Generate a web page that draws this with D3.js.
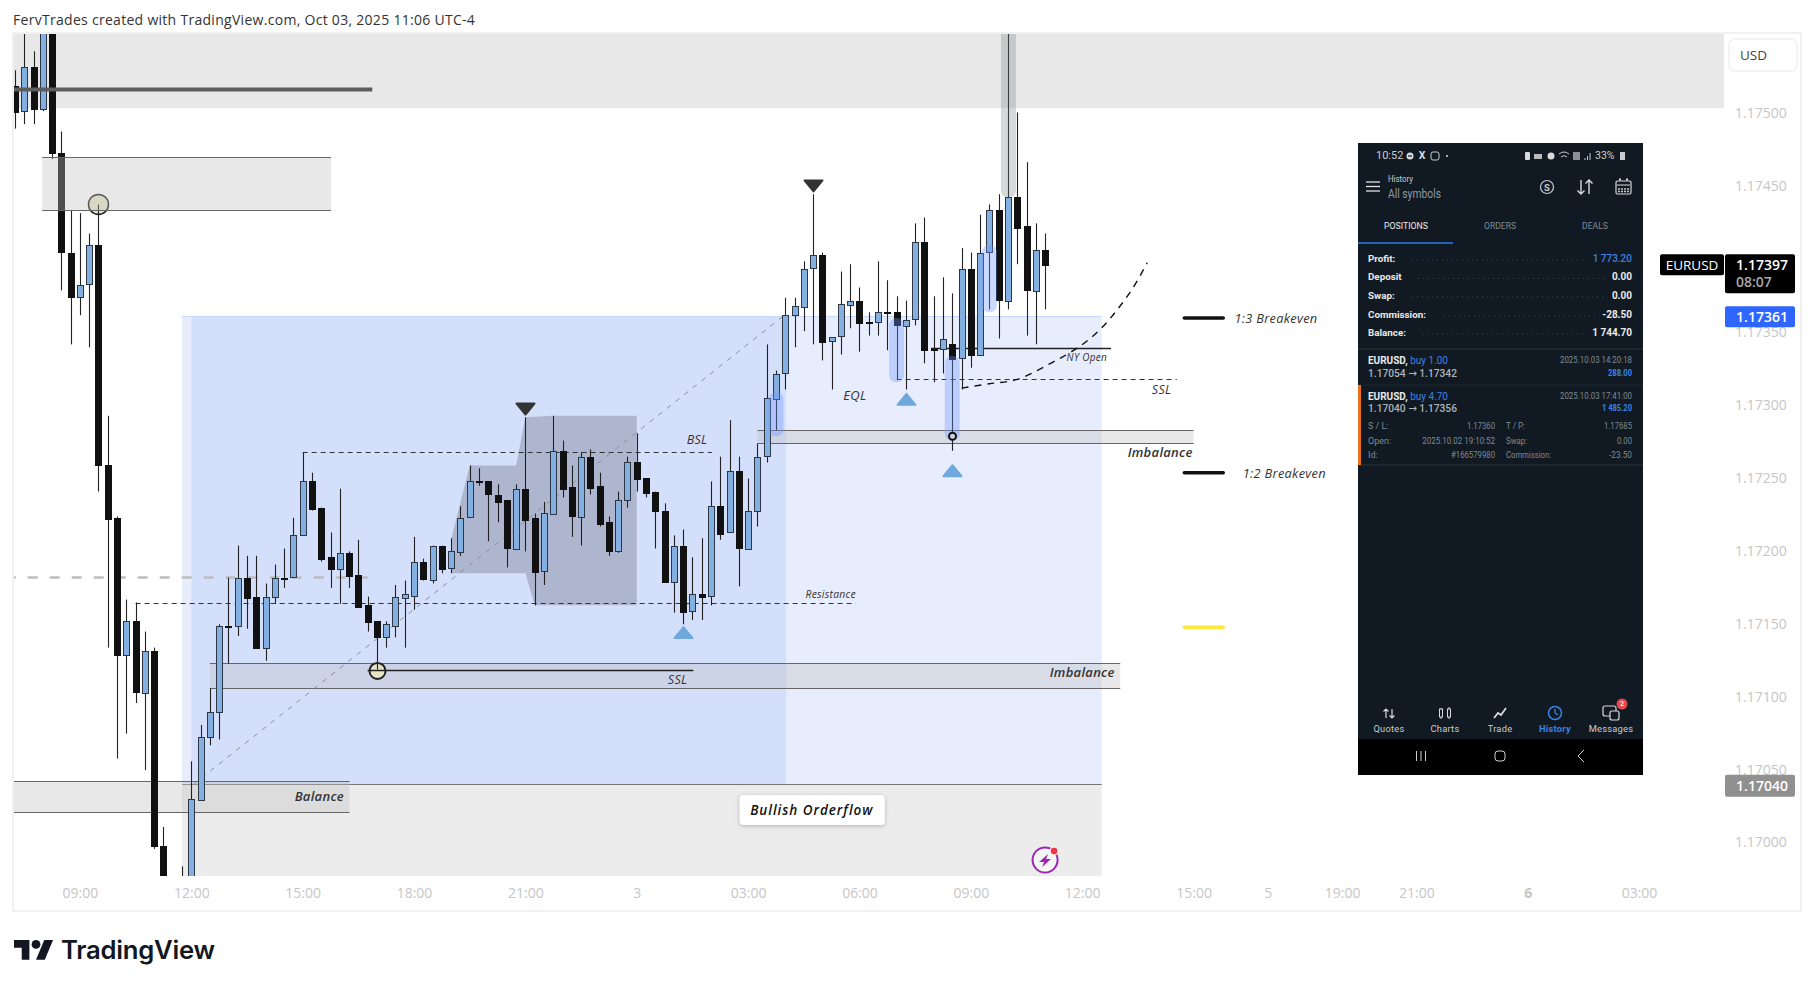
<!DOCTYPE html>
<html lang="en">
<head>
  <meta charset="UTF-8">
  <title>EURUSD 15m - Bullish Orderflow</title>
  <script src="https://d3js.org/d3.v7.min.js"></script>
  <style>
    html, body { margin: 0; background: #fff; }
    text { font-family: "Open Sans", sans-serif; }
  </style>
</head>
<body>
  <script>
    // 15 minute bars, first bar is index -19, 12:00 is index 0
    const firstBar = -19;
    const opens = [1.17519,1.17502,1.17532,1.17503,1.17565,1.17473,1.17405,1.17375,1.17383,1.17410,1.17259,1.17223,1.17129,1.17152,1.17103,1.17132,1.16998,1.16964,1.16964,1.16968,
      1.17030,1.17073,1.17090,1.17149,1.17149,1.17182,1.17169,1.17134,1.17169,1.17182,1.17182,1.17211,1.17248,1.17230,1.17196,1.17188,1.17199,1.17184,1.17163,1.17152,
      1.17141,1.17149,1.17168,1.17170,1.17193,1.17181,1.17204,1.17188,1.17200,1.17223,1.17248,1.17248,1.17239,1.17235,1.17202,1.17243,1.17223,1.17186,1.17226,1.17269,
      1.17244,1.17224,1.17265,1.17245,1.17220,1.17200,1.17235,1.17261,1.17250,1.17241,1.17228,1.17179,1.17204,1.17159,1.17171,1.17169,1.17231,1.17213,1.17255,1.17202,
      1.17228,1.17265,1.17305,1.17322,1.17362,1.17368,1.17394,1.17403,1.17344,1.17348,1.17369,1.17372,1.17357,1.17357,1.17364,1.17364,1.17355,1.17359,1.17412,1.17339,
      1.17339,1.17342,1.17333,1.17394,1.17335,1.17405,1.17434,1.17372,1.17443,1.17423,1.17379,1.17407];
    const highs = [1.17530,1.17560,1.17543,1.17570,1.17570,1.17488,1.17434,1.17432,1.17418,1.17438,1.17293,1.17224,1.17167,1.17165,1.17145,1.17134,1.17011,1.16968,1.16984,1.17056,
      1.17081,1.17106,1.17150,1.17182,1.17204,1.17197,1.17197,1.17178,1.17191,1.17202,1.17223,1.17268,1.17254,1.17230,1.17213,1.17243,1.17200,1.17208,1.17169,1.17152,
      1.17152,1.17177,1.17180,1.17210,1.17195,1.17204,1.17204,1.17209,1.17231,1.17259,1.17257,1.17248,1.17246,1.17235,1.17246,1.17292,1.17226,1.17234,1.17293,1.17276,
      1.17259,1.17268,1.17270,1.17254,1.17224,1.17241,1.17265,1.17281,1.17250,1.17241,1.17233,1.17211,1.17215,1.17196,1.17209,1.17248,1.17265,1.17290,1.17265,1.17250,
      1.17274,1.17342,1.17324,1.17374,1.17374,1.17399,1.17445,1.17405,1.17347,1.17392,1.17397,1.17381,1.17364,1.17399,1.17386,1.17375,1.17372,1.17425,1.17429,1.17375,
      1.17388,1.17377,1.17408,1.17405,1.17431,1.17438,1.17445,1.17564,1.17501,1.17467,1.17425,1.17418];
    const lows = [1.17490,1.17493,1.17493,1.17502,1.17469,1.17379,1.17342,1.17362,1.17340,1.17241,1.17134,1.17058,1.17075,1.17096,1.17050,1.16996,1.16957,1.16954,1.16958,1.16961,
      1.17030,1.17067,1.17071,1.17123,1.17142,1.17147,1.17134,1.17125,1.17164,1.17175,1.17182,1.17211,1.17228,1.17193,1.17175,1.17164,1.17175,1.17162,1.17145,1.17119,
      1.17134,1.17141,1.17134,1.17160,1.17180,1.17178,1.17185,1.17185,1.17197,1.17223,1.17245,1.17207,1.17220,1.17189,1.17202,1.17200,1.17163,1.17177,1.17226,1.17237,
      1.17210,1.17204,1.17239,1.17217,1.17197,1.17199,1.17230,1.17241,1.17237,1.17202,1.17179,1.17158,1.17150,1.17153,1.17153,1.17163,1.17208,1.17213,1.17176,1.17202,
      1.17217,1.17261,1.17283,1.17311,1.17340,1.17351,1.17342,1.17331,1.17311,1.17335,1.17353,1.17337,1.17348,1.17348,1.17338,1.17318,1.17311,1.17355,1.17329,1.17316,
      1.17322,1.17269,1.17311,1.17326,1.17335,1.17366,1.17346,1.17366,1.17397,1.17348,1.17342,1.17366];
    const closes = [1.17501,1.17532,1.17503,1.17565,1.17473,1.17405,1.17375,1.17383,1.17410,1.17259,1.17222,1.17129,1.17152,1.17103,1.17132,1.16998,1.16961,1.16958,1.16968,1.17030,
      1.17073,1.17090,1.17149,1.17149,1.17182,1.17168,1.17134,1.17169,1.17182,1.17182,1.17211,1.17248,1.17229,1.17195,1.17188,1.17199,1.17183,1.17162,1.17151,1.17141,
      1.17150,1.17169,1.17171,1.17193,1.17181,1.17204,1.17188,1.17200,1.17223,1.17248,1.17248,1.17239,1.17234,1.17202,1.17243,1.17222,1.17186,1.17226,1.17269,1.17243,
      1.17224,1.17265,1.17244,1.17219,1.17200,1.17235,1.17261,1.17249,1.17240,1.17228,1.17179,1.17204,1.17159,1.17171,1.17169,1.17231,1.17212,1.17255,1.17202,1.17228,
      1.17265,1.17305,1.17322,1.17362,1.17368,1.17394,1.17403,1.17343,1.17347,1.17370,1.17372,1.17357,1.17357,1.17364,1.17363,1.17355,1.17359,1.17412,1.17338,1.17339,
      1.17346,1.17332,1.17394,1.17335,1.17405,1.17434,1.17372,1.17443,1.17422,1.17379,1.17407,1.17397];

    const priceTicks = [1.175, 1.1745, 1.1735, 1.173, 1.1725, 1.172, 1.1715, 1.171, 1.1705, 1.17];
    const timeTicks = [-12, 0, 12, 24, 36, 48, 60, 72, 84, 96, 108, 116, 124, 132, 144, 156];
    const timeLabels = ["09:00", "12:00", "15:00", "18:00", "21:00", "3", "03:00", "06:00", "09:00", "12:00", "15:00", "5", "19:00", "21:00", "6", "03:00"];

    // annotations, all in bar index / price
    const entryPrice = 1.1704, targetPrice = 1.17361, lastPrice = 1.17397;
    const fibShape = [[28,1.17185],[28,1.17208],[30,1.17259],[35,1.17259],[36,1.17292],[39,1.17293],[48,1.17293],[48,1.17163],[37,1.17163],[36,1.17185]];
    const smileCurve = [[83,1.17312],[86,1.17315],[89,1.17318],[92.6,1.17329],[95.6,1.1734],[97.9,1.17352],[99.8,1.17366],[101.5,1.17381],[103,1.17398]];
    const overlayBoxes = [[-16.06,15.05,1.1747,1.17434]];
    const imbalances = [[2,100.1,1.17123,1.17106],[61,108,1.17283,1.17274]];
    const balanceBox = [-20,17.05,1.17042,1.17021];
    const dashedLines = [[-6,71.6,1.17164],[12,56.1,1.17268],[76,106.2,1.17318]];
    const solidLines = [[19,54.1,1.17118],[79.7,99.1,1.17339]];
    const legendLines = [[1.1736,"#111"],[1.17254,"#111"],[1.17148,"#fde83a"]];
    const blueHighlights = [[63,1.17309,1.17279],[76,1.1736,1.17316],[82,1.17334,1.17276],[86,1.1741,1.17364]];
    const downMarks = [[67,1.17451],[36,1.17298]];
    const upMarks = [[53,1.17144],[77,1.17304],[82,1.17255]];
    const rings = [[-10,1.17438,10,1.5],[20,1.17118,8,2]];
    const chartLabels = [
      ["Balance",16.45,1.17032,"end",13,600],["Imbalance",99.5,1.17117,"end",13,600],["SSL",52.4,1.17112,"middle",12.5,400],
      ["Imbalance",107.9,1.17268,"end",13,600],["BSL",54.5,1.17277,"middle",12.5,400],["Resistance",68.9,1.17171,"middle",10.3,400],
      ["EQL",71.5,1.17307,"middle",13,400],["SSL",105.6,1.17311,"end",12.5,400],["NY Open",96.5,1.17333,"middle",10,400],
      ["1:3 Breakeven",112.4,1.1736,"start",12.8,400],["1:2 Breakeven",113.3,1.17254,"start",12.8,400]
    ];

    const width = 1814, height = 987;
    const svg = d3.select("body").append("svg").attr("width", width).attr("height", height).style("display", "block");

    const x = d3.scaleLinear().domain([0, 96]).range([191.3, 1082.2]);
    const y = d3.scaleLinear().domain([1.17, 1.175]).range([843, 114]);
    const snap = v => Math.round(v) + 0.5;
    const plotRight = 1724, plotBottom = 876;
    const lastIndex = (plotRight - x(0)) / (x(1) - x(0));

    svg.append("clipPath").attr("id", "plot").append("rect")
      .attr("x", 14).attr("y", 34).attr("width", plotRight - 14).attr("height", plotBottom - 34);

    svg.append("text").attr("x", 13).attr("y", 24.5).attr("font-size", 14).attr("letter-spacing", .29).attr("fill", "#333")
      .text("FervTrades created with TradingView.com, Oct 03, 2025 11:06 UTC-4");

    const g = svg.append("g").attr("clip-path", "url(#plot)");

    const box = (parent, x0, x1, p0, p1, fill) => parent.append("rect")
      .attr("x", x(x0)).attr("width", x(x1) - x(x0))
      .attr("y", y(p0)).attr("height", y(p1) - y(p0)).attr("fill", fill);
    const hline = (parent, x0, x1, p, stroke, sw, dash) => parent.append("line")
      .attr("x1", x(x0)).attr("x2", x(x1)).attr("y1", Math.floor(y(p)) + 0.5).attr("y2", Math.floor(y(p)) + 0.5)
      .attr("stroke", stroke).attr("stroke-width", sw).attr("stroke-dasharray", dash || null);

    // resistance zone at the top
    box(g, -20, lastIndex, 1.1757, 1.17504, "#e8e8e8");

    // long position tool
    box(g, -1, 98.1, targetPrice, entryPrice, "#e7edfd");
    box(g, 0, 64.1, targetPrice, entryPrice, "#d4dffc");
    box(g, -1, 98.1, entryPrice, 1.1695, "#ececec");
    hline(g, -1, 98.1, entryPrice, "#777", 1);
    hline(g, -1, 98.1, targetPrice, "#c8d8fb", 1);

    // balance
    box(g, balanceBox[0], balanceBox[1], balanceBox[2], balanceBox[3], "rgba(190,190,190,.36)");
    hline(g, balanceBox[0], balanceBox[1], balanceBox[2], "#666", 1);
    hline(g, balanceBox[0], balanceBox[1], balanceBox[3], "#666", 1);

    g.append("path").datum(fibShape)
      .attr("d", d3.line().x(d => x(d[0])).y(d => y(d[1])).curve(d3.curveLinearClosed))
      .attr("fill", "#aeb6cf");

    imbalances.forEach(d => {
      box(g, d[0], d[1], d[2], d[3], "rgba(190,190,190,.36)");
      hline(g, d[0], d[1], d[2], "#666", 1);
      hline(g, d[0], d[1], d[3], "#666", 1);
    });

    hline(g, -20, 19.5, 1.17182, "#bdbdbd", 2.5, "10 12");
    dashedLines.forEach(d => hline(g, d[0], d[1], d[2], "#333", 1, "5 4"));

    // entry to target trend line
    g.append("line").attr("x1", x(0.2)).attr("y1", y(entryPrice)).attr("x2", x(63.7)).attr("y2", y(targetPrice))
      .attr("stroke", "#8d8f96").attr("stroke-width", 1).attr("stroke-dasharray", "5 6");

    g.selectAll(".ring").data(rings).enter().append("circle")
      .attr("cx", d => snap(x(d[0]))).attr("cy", d => y(d[1])).attr("r", d => d[2])
      .attr("fill", "#e6e4c6").attr("stroke", "#222").attr("stroke-width", d => d[3]);

    solidLines.forEach(d => hline(g, d[0], d[1], d[2], "#222", 1.3));

    // candles
    const bars = opens.map((o, i) => ({ i: firstBar + i, o, h: highs[i], l: lows[i], c: closes[i] }));
    const candle = g.selectAll(".candle").data(bars).enter().append("g").attr("class", "candle");
    candle.append("line")
      .attr("x1", d => snap(x(d.i))).attr("x2", d => snap(x(d.i)))
      .attr("y1", d => y(d.h)).attr("y2", d => y(d.l))
      .attr("stroke", "#222").attr("stroke-width", 1.1);
    candle.append("rect")
      .attr("x", d => snap(x(d.i)) - 3).attr("width", 6)
      .attr("y", d => Math.round(y(Math.max(d.o, d.c))) + 0.5)
      .attr("height", d => Math.max(1, Math.round(Math.abs(y(d.o) - y(d.c)))))
      .attr("fill", d => d.c > d.o ? "#83b0e1" : "#111")
      .attr("stroke", d => d.c > d.o ? "#2e3844" : "#111")
      .attr("stroke-width", 1);

    // translucent boxes that sit over the candles
    overlayBoxes.forEach(d => {
      box(g, d[0], d[1], d[2], d[3], "rgba(190,190,190,.36)");
      hline(g, d[0], d[1], d[2], "#666", 1);
      hline(g, d[0], d[1], d[3], "#666", 1);
    });

    g.selectAll(".pill").data(blueHighlights).enter().append("rect")
      .attr("x", d => x(d[0]) - 7.5).attr("width", 15).attr("rx", 7)
      .attr("y", d => y(d[1])).attr("height", d => y(d[2]) - y(d[1]))
      .attr("fill", "rgba(110,150,255,.35)");
    g.append("rect").attr("x", x(88) - 7).attr("width", 15).attr("rx", 6)
      .attr("y", y(1.1757)).attr("height", y(1.17443) - y(1.1757))
      .attr("fill", "rgba(120,130,130,.3)");

    hline(g, -20, 19.5, 1.17517, "#5d5d5d", 4);

    // swing markers
    const triangle = dir => `M-9,${-5 * dir}L9,${-5 * dir}L0,${6 * dir}Z`;
    g.selectAll(".down").data(downMarks).enter().append("path")
      .attr("d", triangle(1)).attr("transform", d => `translate(${snap(x(d[0]))},${y(d[1])})`)
      .attr("fill", "#333").attr("stroke", "#333").attr("stroke-width", 2).attr("stroke-linejoin", "round");
    g.selectAll(".up").data(upMarks).enter().append("path")
      .attr("d", triangle(-1)).attr("transform", d => `translate(${snap(x(d[0]))},${y(d[1])})`)
      .attr("fill", "#6fa8dc").attr("stroke", "#6fa8dc").attr("stroke-width", 2).attr("stroke-linejoin", "round");

    g.append("circle").attr("cx", snap(x(82))).attr("cy", y(1.17279)).attr("r", 3.5)
      .attr("fill", "#c9d2e8").attr("stroke", "#111").attr("stroke-width", 2);

    // hand drawn curve
    g.append("path").datum(smileCurve)
      .attr("d", d3.line().x(d => x(d[0])).y(d => y(d[1])).curve(d3.curveCatmullRom))
      .attr("fill", "none").attr("stroke", "#111").attr("stroke-width", 1.4).attr("stroke-dasharray", "7 6");

    legendLines.forEach(d => g.append("line")
      .attr("x1", x(107)).attr("x2", x(111.2)).attr("y1", y(d[0])).attr("y2", y(d[0]))
      .attr("stroke", d[1]).attr("stroke-width", 3.5).attr("stroke-linecap", "round"));

    g.selectAll(".note").data(chartLabels).enter().append("text")
      .attr("x", d => x(d[1])).attr("y", d => y(d[2]))
      .attr("text-anchor", d => d[3]).attr("dominant-baseline", "central")
      .attr("font-size", d => d[4]).attr("font-weight", d => d[5])
      .attr("font-style", "italic").attr("letter-spacing", .3).attr("fill", "#333")
      .text(d => d[0]);

    // Bullish Orderflow tag
    const shadow = svg.append("filter").attr("id", "soft").attr("x", "-20%").attr("y", "-40%").attr("width", "140%").attr("height", "200%");
    shadow.append("feDropShadow").attr("dx", 0).attr("dy", 1).attr("stdDeviation", 2).attr("flood-opacity", .25);
    g.append("rect").attr("x", x(59.1)).attr("y", y(1.17033)).attr("width", 145).attr("height", 30).attr("rx", 4)
      .attr("fill", "#fff").attr("filter", "url(#soft)");
    g.append("text").attr("x", x(59.1) + 72).attr("y", y(1.17033) + 15)
      .attr("text-anchor", "middle").attr("dominant-baseline", "central")
      .attr("font-size", 13.5).attr("font-weight", 600).attr("font-style", "italic").attr("letter-spacing", .95).attr("fill", "#111")
      .text("Bullish Orderflow");

    // purple alert icon
    const bolt = g.append("g").attr("transform", `translate(${x(92)},860)`);
    bolt.append("circle").attr("r", 12.5).attr("fill", "#fff").attr("fill-opacity", .5).attr("stroke", "#9c27b0").attr("stroke-width", 2);
    bolt.append("path").attr("d", "M3,-6L-6,2L-1,2L-3,7L6,-1L1,-1Z").attr("fill", "#9c27b0");
    bolt.append("circle").attr("cx", 9).attr("cy", -9).attr("r", 4).attr("fill", "#f23645").attr("stroke", "#fff").attr("stroke-width", 1);

    // frame
    svg.append("rect").attr("x", 13).attr("y", 33).attr("width", 1788).attr("height", 878)
      .attr("fill", "none").attr("stroke", "#f1f1f1").attr("stroke-width", 2);

    // axes
    const priceAxis = svg.append("g").attr("transform", "translate(1735,-0.5)")
      .call(d3.axisRight(y).tickValues(priceTicks).tickSize(0).tickPadding(0).tickFormat(d3.format(".5f")));
    priceAxis.select(".domain").remove();
    priceAxis.selectAll("text").attr("font-family", "Open Sans").attr("font-size", 14).attr("fill", "#c6c6c6");

    const timeAxis = svg.append("g").attr("transform", "translate(0,888)")
      .call(d3.axisBottom(x).tickValues(timeTicks).tickSize(0).tickPadding(0).tickFormat((d, i) => timeLabels[i]));
    timeAxis.select(".domain").remove();
    timeAxis.selectAll("text").attr("font-family", "Open Sans").attr("font-size", 14).attr("fill", "#c6c6c6")
      .attr("font-weight", (d, i) => timeLabels[i] === "6" ? 700 : 400);

    // price labels
    const tag = (x0, w, y0, h, fill) => svg.append("rect").attr("x", x0).attr("y", y0).attr("width", w).attr("height", h).attr("rx", 2).attr("fill", fill);
    const tagText = (tx, ty, s, fill, size, weight, anchor) => svg.append("text").attr("x", tx).attr("y", ty)
      .attr("dominant-baseline", "central").attr("text-anchor", anchor || "middle")
      .attr("font-size", size).attr("font-weight", weight || 400).attr("fill", fill).text(s);
    const fmt = d3.format(".5f");

    tag(1725, 70, y(lastPrice) - 10, 39, "#000");
    tagText(1762, y(lastPrice), fmt(lastPrice), "#fff", 14, 600);
    tagText(1736, y(lastPrice) + 17.5, "08:07", "#a8a8a8", 14, 600, "start");
    tag(1660, 64, y(lastPrice) - 10, 21, "#000");
    tagText(1692, y(lastPrice) + 0.5, "EURUSD", "#fff", 13.5, 400);
    tag(1725, 70, y(targetPrice) - 10.5, 21, "#2f66ff");
    tagText(1762, y(targetPrice), fmt(targetPrice), "#fff", 14, 600);
    tag(1725, 70, y(entryPrice) - 10, 22, "#909090");
    tagText(1762, y(entryPrice) + 1, fmt(entryPrice), "#fff", 14, 600);

    svg.append("rect").attr("x", 1729).attr("y", 39).attr("width", 68).attr("height", 32).attr("rx", 6)
      .attr("fill", "#fff").attr("stroke", "#f0f0f0").attr("stroke-width", 1.5);
    tagText(1740, 54.5, "USD", "#444", 13.5, 400, "start");

    // TradingView logo
    const logo = svg.append("g").attr("transform", "translate(14,935.6) scale(1.1)").attr("fill", "#131722");
    logo.append("path").attr("d", "M14 22H7V11H0V4h14v18zM28 22h-8l7.5-18h8L28 22z");
    logo.append("circle").attr("cx", 20).attr("cy", 8).attr("r", 4);
    svg.append("text").attr("x", 61).attr("y", 959).style("font-family", "Inter").attr("font-size", 25.7)
      .attr("font-weight", 600).attr("letter-spacing", -.25).attr("fill", "#131722").text("TradingView");

    // phone screenshot pasted on the chart
    const phone = svg.append("g");
    const ptext = (tx, ty, s, fill, size, weight, anchor, len) => {
      const t = phone.append("text").attr("x", tx).attr("y", ty - 0.7)
        .style("font-family", "Roboto").attr("dominant-baseline", "central").attr("text-anchor", anchor || "start")
        .attr("font-size", size).attr("font-weight", weight || 400).attr("fill", fill).text(s);
      if (len) t.attr("textLength", len).attr("lengthAdjust", "spacingAndGlyphs");
      return t;
    };
    const prule = (x0, x1, ty, stroke, sw, dash) => phone.append("line").attr("x1", x0).attr("x2", x1).attr("y1", ty).attr("y2", ty)
      .attr("stroke", stroke).attr("stroke-width", sw || 1).attr("stroke-dasharray", dash || null);
    const pblue = "#3b82e6", pgrey = "#7f8a94", pwhite = "#e8eaec";

    phone.append("rect").attr("x", 1358).attr("y", 143).attr("width", 285).attr("height", 632).attr("fill", "#111a22");
    phone.append("rect").attr("x", 1358).attr("y", 739).attr("width", 285).attr("height", 36).attr("fill", "#000");

    // status bar
    ptext(1376, 156, "10:52", "#c8ccd0", 11);
    phone.append("circle").attr("cx", 1410).attr("cy", 156).attr("r", 3.5).attr("fill", "#d8dadc");
    prule(1408, 1412, 156, "#111a22", 1.2);
    ptext(1422, 156, "X", "#d8dadc", 10.5, 700, "middle");
    phone.append("rect").attr("x", 1431).attr("y", 152).attr("width", 8).attr("height", 8).attr("rx", 2).attr("fill", "none").attr("stroke", "#c8ccd0");
    phone.append("circle").attr("cx", 1447).attr("cy", 156).attr("r", 1).attr("fill", "#d8dadc");
    phone.append("rect").attr("x", 1525).attr("y", 152).attr("width", 5).attr("height", 8).attr("rx", 1).attr("fill", "#d8dadc");
    phone.append("rect").attr("x", 1534).attr("y", 154).attr("width", 8).attr("height", 5).attr("fill", "#bbb");
    phone.append("circle").attr("cx", 1551).attr("cy", 156).attr("r", 3.5).attr("fill", "#d8dadc");
    phone.append("path").attr("d", "M1559,154q5,-4 10,0M1561,157q3,-3 6,0").attr("fill", "none").attr("stroke", "#c8ccd0");
    phone.append("rect").attr("x", 1573).attr("y", 152).attr("width", 7).attr("height", 8).attr("fill", "#8a9096");
    phone.append("path").attr("d", "M1585,160v-2M1587.5,160v-4M1590,160v-7").attr("stroke", "#c8ccd0");
    ptext(1595, 156, "33%", "#c8ccd0", 10.5);
    phone.append("rect").attr("x", 1620).attr("y", 152).attr("width", 5).attr("height", 8).attr("fill", "#c8ccd0");

    // header
    [182, 186.5, 191].forEach(v => prule(1366, 1380, v, "#e0e2e4", 1.3));
    ptext(1388, 179.5, "History", "#c8ccd0", 9, 400, "start", 25);
    ptext(1388, 195, "All symbols", "#8f99a3", 12, 400, "start", 53);
    phone.append("circle").attr("cx", 1547).attr("cy", 187).attr("r", 6.5).attr("fill", "none").attr("stroke", "#c8ccd0").attr("stroke-width", 1.2);
    ptext(1547, 187.7, "S", "#c8ccd0", 9.5, 700, "middle");
    phone.append("path").attr("d", "M1581,180v14M1577.5,190.5l3.5,3.5l3.5,-3.5M1589,194v-14M1585.5,183.5l3.5,-3.5l3.5,3.5")
      .attr("fill", "none").attr("stroke", "#d8dadc").attr("stroke-width", 1.4);
    phone.append("rect").attr("x", 1616).attr("y", 181).attr("width", 15).attr("height", 13).attr("rx", 1.5).attr("fill", "none").attr("stroke", "#d8dadc").attr("stroke-width", 1.2);
    prule(1617, 1630, 185, "#d8dadc", 1);
    prule(1618, 1629, 189, "#c8ccd0", 1.5, "2 1");
    prule(1618, 1629, 191.5, "#c8ccd0", 1.5, "2 1");
    prule(1619, 1628, 179.5, "#d8dadc", 2, "2 5");

    // tabs
    ptext(1406, 226, "POSITIONS", pwhite, 9.5, 400, "middle", 44);
    ptext(1500, 226, "ORDERS", pgrey, 9.5, 400, "middle", 32);
    ptext(1595, 226, "DEALS", pgrey, 9.5, 400, "middle", 26);
    prule(1358, 1453, 243, "#2e7fe8", 1.5);

    // summary rows
    const rowNames = ["Profit:", "Deposit", "Swap:", "Commission:", "Balance:"];
    const rowValues = ["1 773.20", "0.00", "0.00", "-28.50", "1 744.70"];
    const rowDotStart = [1412, 1418, 1412, 1444, 1422];
    const rowDotEnd = [1586, 1606, 1606, 1596, 1586];
    const rowY = [259, 277.5, 296, 315, 333];
    rowNames.forEach((d, i) => {
      prule(rowDotStart[i], rowDotEnd[i], rowY[i] + 1, "#3c4650", 1, "1 4");
      ptext(1368, rowY[i], d, pwhite, 9.8, 700);
      ptext(1632, rowY[i], rowValues[i], i === 0 ? pblue : pwhite, 10, i === 0 ? 500 : 700, "end");
    });
    prule(1358, 1643, 349, "#2a3540");
    prule(1358, 1643, 385, "#1d2730");
    prule(1358, 1643, 465, "#2a3540");

    // closed trades
    const pair = (ty, buy) => {
      const t = phone.append("text").attr("x", 1368).attr("y", ty - 0.7).attr("dominant-baseline", "central")
        .style("font-family", "Roboto").attr("font-size", 11)
        .attr("textLength", 80).attr("lengthAdjust", "spacingAndGlyphs");
      t.append("tspan").attr("font-weight", 700).attr("fill", pwhite).text("EURUSD,");
      t.append("tspan").attr("fill", pblue).text(" " + buy);
    };
    const route = (ty, from, to) => {
      const t = phone.append("text").attr("x", 1368).attr("y", ty - 0.7).attr("dominant-baseline", "central")
        .style("font-family", "Roboto").attr("font-size", 11).attr("font-weight", 500).attr("fill", "#aeb4ba")
        .attr("textLength", 89).attr("lengthAdjust", "spacingAndGlyphs");
      t.append("tspan").text(from + " ");
      t.append("tspan").style("font-family", "DejaVu Sans").text("→");
      t.append("tspan").text(" " + to);
    };
    pair(361, "buy 1.00");
    route(374, "1.17054", "1.17342");
    ptext(1632, 361, "2025.10.03 14:20:18", pgrey, 9, 400, "end", 72);
    ptext(1632, 374, "288.00", pblue, 9, 700, "end", 24);
    phone.append("rect").attr("x", 1358).attr("y", 385).attr("width", 3).attr("height", 80).attr("fill", "#e8721c");
    pair(397, "buy 4.70");
    route(409, "1.17040", "1.17356");
    ptext(1632, 397, "2025.10.03 17:41:00", pgrey, 9, 400, "end", 72);
    ptext(1632, 409, "1 485.20", pblue, 9, 700, "end", 30);

    const detailY = [427, 442, 456];
    const detailA = ["S / L:", "Open:", "Id:"], detailB = ["1.17360", "2025.10.02 19:10:52", "#166579980"], detailBLen = [28, 72.7, 44];
    const detailC = ["T / P:", "Swap:", "Commission:"], detailCLen = [19, 21, 45], detailD = ["1.17685", "0.00", "-23.50"], detailDLen = [28, 15, 23];
    detailY.forEach((v, i) => {
      ptext(1368, v, detailA[i], pgrey, 9);
      ptext(1495, v, detailB[i], pgrey, 9, 400, "end", detailBLen[i]);
      ptext(1506, v, detailC[i], pgrey, 9, 400, "start", detailCLen[i]);
      ptext(1632, v, detailD[i], pgrey, 9, 400, "end", detailDLen[i]);
    });

    // bottom navigation
    const navNames = ["Quotes", "Charts", "Trade", "History", "Messages"];
    const navX = [1389, 1445, 1500, 1555, 1611];
    navNames.forEach((d, i) => ptext(navX[i], 729, d, i === 3 ? pblue : "#c8ccd0", 9.3, i === 3 ? 700 : 400, "middle").attr("letter-spacing", .25));
    phone.append("path").attr("d", "M1386,718v-9M1383.5,711.5l2.5,-2.5l2.5,2.5M1392,709v9M1389.5,715.5l2.5,2.5l2.5,-2.5")
      .attr("fill", "none").attr("stroke", "#d8dadc").attr("stroke-width", 1.2);
    phone.append("path").attr("d", "M1441,708v11M1449,707v12").attr("stroke", "#d8dadc");
    phone.append("rect").attr("x", 1439.5).attr("y", 709).attr("width", 3).attr("height", 8).attr("fill", "#111a22").attr("stroke", "#d8dadc");
    phone.append("rect").attr("x", 1447.5).attr("y", 709).attr("width", 3).attr("height", 8).attr("fill", "#111a22").attr("stroke", "#d8dadc");
    phone.append("path").attr("d", "M1494,718l4,-5l3,2l5,-7").attr("fill", "none").attr("stroke", "#d8dadc").attr("stroke-width", 1.8);
    phone.append("circle").attr("cx", 1555).attr("cy", 713).attr("r", 6.5).attr("fill", "none").attr("stroke", pblue).attr("stroke-width", 1.5);
    phone.append("path").attr("d", "M1555,709v4l3,2").attr("fill", "none").attr("stroke", pblue).attr("stroke-width", 1.3);
    phone.append("rect").attr("x", 1603).attr("y", 706).attr("width", 13).attr("height", 10).attr("rx", 2).attr("fill", "none").attr("stroke", "#d8dadc").attr("stroke-width", 1.2);
    phone.append("rect").attr("x", 1610).attr("y", 711).attr("width", 9).attr("height", 9).attr("rx", 2).attr("fill", "#111a22").attr("stroke", "#d8dadc").attr("stroke-width", 1.2);
    phone.append("circle").attr("cx", 1622).attr("cy", 704).attr("r", 5.5).attr("fill", "#e5484d");
    ptext(1622, 704.7, "2", "#fff", 7, 500, "middle");

    // android buttons
    [1416.5, 1421, 1425.5].forEach(v => phone.append("line").attr("x1", v).attr("x2", v).attr("y1", 751).attr("y2", 761).attr("stroke", "#d0d0d0"));
    phone.append("rect").attr("x", 1495).attr("y", 751).attr("width", 10).attr("height", 10).attr("rx", 3).attr("fill", "none").attr("stroke", "#d0d0d0");
    phone.append("path").attr("d", "M1584,750l-6,6l6,6").attr("fill", "none").attr("stroke", "#d0d0d0");
  </script>
</body>
</html>
